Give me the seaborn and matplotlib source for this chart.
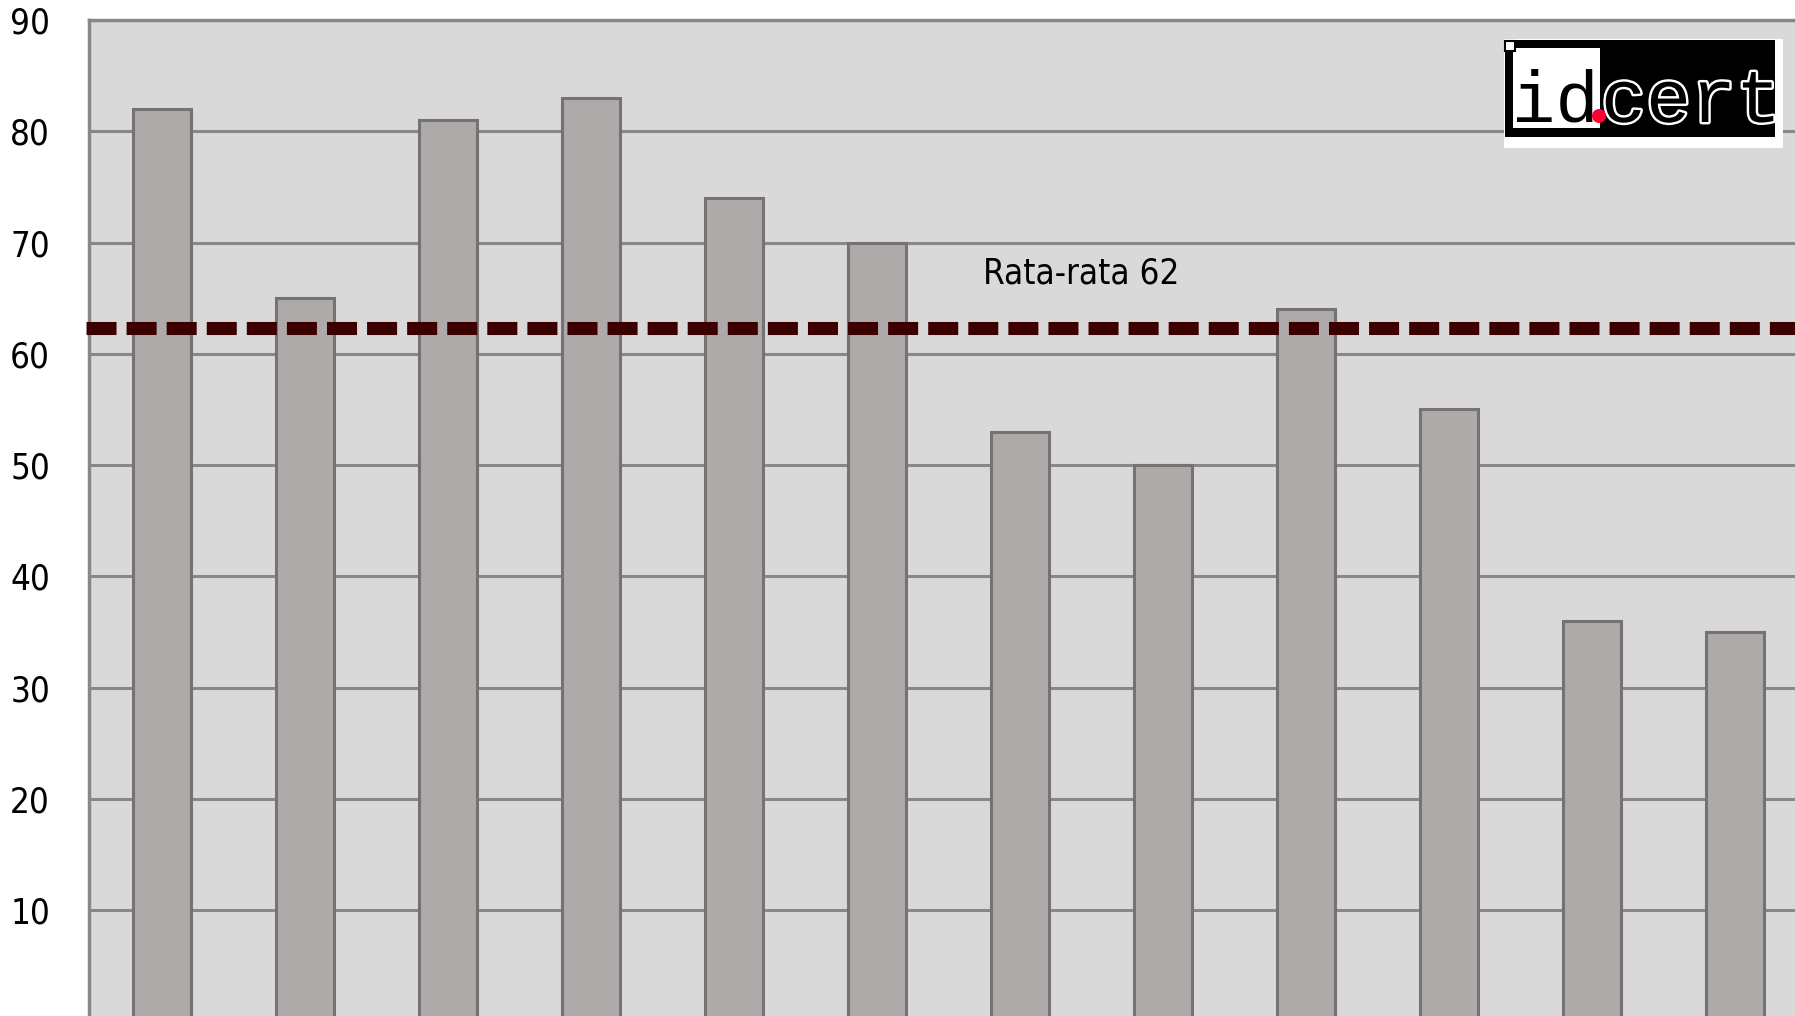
import matplotlib
matplotlib.use("Agg")
import matplotlib.pyplot as plt
import matplotlib.patheffects as pe
from matplotlib.patches import Rectangle, Ellipse
from matplotlib import font_manager
import seaborn as sns

# ---- data ----
categories = ["1", "2", "3", "4", "5", "6", "7", "8", "9", "10", "11", "12"]
values = [82, 65, 81, 83, 74, 70, 53, 50, 64, 55, 36, 35]
average_value = sum(values) / len(values)
average_label = "Rata-rata 62"
yticks = [10, 20, 30, 40, 50, 60, 70, 80, 90]

sns.set_theme(style="white")
names = {f.name for f in font_manager.fontManager.ttflist}
condensed = any("Condensed" in f.fname for f in font_manager.fontManager.ttflist
                if f.name == "DejaVu Sans")
if "Liberation Sans Narrow" in names:
    main_family, stretch, tick_fs, lab_fs = ['Liberation Sans Narrow', 'DejaVu Sans'], "normal", 27, 29
elif condensed:
    main_family, stretch, tick_fs, lab_fs = ['DejaVu Sans', 'DejaVu Sans'], "condensed", 25, 25
else:
    main_family, stretch, tick_fs, lab_fs = ['Liberation Sans', 'DejaVu Sans'], "normal", 24, 25
plt.rcParams['font.family'] = main_family
plt.rcParams['font.stretch'] = stretch

W, H = 1795, 1016
fig = plt.figure(figsize=(W / 100, H / 100), dpi=100)
fig.patch.set_facecolor("white")
ax = fig.add_axes([89 / W, 0, 1 - 89 / W, 1 - 20 / H])
ax.set_facecolor("#d9d9d9")

sns.barplot(x=categories, y=values, color="#aeaaa9", saturation=1,
            width=0.405, edgecolor="#767272", linewidth=2.2, ax=ax, zorder=3)

ax.set_ylim(0.5, 90)
ax.set_xlim(-0.508, 11.42)
ax.set_yticks(yticks)
ax.set_yticklabels([str(v) for v in yticks], fontsize=tick_fs, color="black",
                   fontstretch=stretch)
ax.tick_params(axis="y", length=0, pad=28)
ax.tick_params(axis="x", length=0, labelbottom=False)
ax.set_xlabel("")
ax.set_ylabel("")

ax.yaxis.grid(True, color="#888888", linewidth=2.2, zorder=1)
ax.set_axisbelow(True)
for s in ["bottom", "right"]:
    ax.spines[s].set_visible(False)
for s in ["left", "top"]:
    ax.spines[s].set_visible(True)
    ax.spines[s].set_color("#888888")
    ax.spines[s].set_linewidth(2.5)

# average line
ax.axhline(average_value, xmin=-0.002, xmax=1, color="#3d0000", linewidth=9.4,
           dashes=(2.3, 0.77), zorder=5, clip_on=False)
ax.text(6.43, average_value + 4.9, average_label, fontsize=lab_fs, color="black",
        ha="center", va="center", zorder=6, fontstretch=stretch)

# logo (top right)
def frect(x0, y0, x1, y1, **kw):
    fig.patches.append(Rectangle((x0 / W, 1 - y1 / H), (x1 - x0) / W, (y1 - y0) / H,
                                 transform=fig.transFigure, **kw))

frect(1504, 39, 1783, 148, facecolor="white", edgecolor="none", zorder=10)
frect(1505, 40, 1775, 137, facecolor="black", edgecolor="none", zorder=11)
frect(1513, 48, 1600, 128, facecolor="white", edgecolor="none", zorder=12)
frect(1505, 41, 1515, 51, facecolor="white", edgecolor="black", linewidth=1.5, zorder=13)
logo_font = ["Liberation Mono", "DejaVu Serif"]
fig.text(1555 / W, 1 - 122 / H, "id", fontsize=52, family=logo_font,
         color="black", ha="center", va="baseline", zorder=14)
fig.patches.append(Ellipse((1599 / W, 1 - 116 / H), 14 / W, 14 / H, transform=fig.transFigure,
                           facecolor="#ff0033", edgecolor="none", zorder=15))
t = fig.text(1691 / W, 1 - 122 / H, "cert", fontsize=54, family=logo_font,
             color="black", ha="center", va="baseline", zorder=14)
t.set_path_effects([pe.Stroke(linewidth=3.5, foreground="white"), pe.Normal()])

fig.savefig("out.png", dpi=100, facecolor="white")
